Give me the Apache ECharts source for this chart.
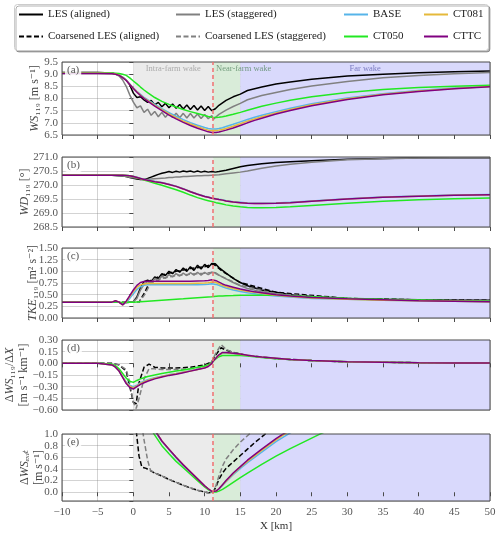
<!DOCTYPE html>
<html>
<head>
<meta charset="utf-8">
<script src="https://cdn.jsdelivr.net/npm/echarts@6/dist/echarts.min.js"></script>
<style>
  html, body { margin: 0; padding: 0; background: #fff; }
  #chart { width: 500px; height: 534px; }
</style>
</head>
<body>
<div id="chart"></div>
<script>
// ---- data ----
const bandEdges = [0, 11.2, 15, 50]      // intra-farm / near-farm / far wake
const farmExit = 11.2
const regionNames = ['Intra-farm wake', 'Near-farm wake', 'Far wake']

// model x positions [km]
const xKm = [-10, -5, -3, -2.5, -2, -1.5, -1, -0.5, 0, 0.5, 1, 1.5, 2, 3, 4, 5, 6, 7, 8, 9, 10, 10.5, 11, 11.2, 11.6,
  12, 12.5, 13, 14, 15, 16, 17, 18, 20, 22, 25, 30, 35, 40, 45, 50]
// LES x positions [km]
const xLes = [-10, -5, -3, -2.5, -2, -1.5, -1, -0.5, 0, 0.5, 1, 1.5, 2, 2.5, 3, 3.5, 4, 4.5, 5, 5.5, 6, 6.5, 7, 7.5, 8,
  8.5, 9, 9.5, 10, 10.5, 11, 11.2, 11.5, 12, 13, 14, 15, 16, 18, 20, 22, 25, 30, 35, 40, 45, 50]

// (a) WS119
const wsBase = [9.04, 9.04, 9.03, 9.01, 8.97, 8.88, 8.76, 8.6, 8.44, 8.3, 8.17, 8.05, 7.95, 7.76, 7.58, 7.42, 7.27, 7.13, 7.01, 6.9,
  6.81, 6.77, 6.75, 6.74, 6.75, 6.77, 6.8, 6.85, 6.94, 7.04, 7.14, 7.23, 7.31, 7.46, 7.6, 7.78, 8.02, 8.2, 8.33, 8.43, 8.5]
const wsCt050 = [9.05, 9.05, 9.05, 9.04, 9.03, 9.0, 8.95, 8.85, 8.72, 8.6, 8.47, 8.35, 8.24, 8.04, 7.88, 7.76, 7.65, 7.55, 7.46, 7.38,
  7.3, 7.26, 7.23, 7.22, 7.22, 7.23, 7.25, 7.28, 7.35, 7.43, 7.52, 7.6, 7.68, 7.81, 7.93, 8.07, 8.25, 8.37, 8.45, 8.5, 8.54]
const wsCt081 = [9.035, 9.035, 9.025, 9.005, 8.96, 8.87, 8.75, 8.59, 8.42, 8.28, 8.14, 8.02, 7.92, 7.72, 7.54, 7.37, 7.21, 7.07, 6.95, 6.84,
  6.74, 6.7, 6.68, 6.67, 6.68, 6.7, 6.73, 6.77, 6.86, 6.96, 7.07, 7.16, 7.25, 7.41, 7.55, 7.74, 7.99, 8.17, 8.31, 8.41, 8.49]
const wsCttc = [9.03, 9.03, 9.02, 9.0, 8.95, 8.86, 8.74, 8.58, 8.41, 8.26, 8.12, 8.0, 7.89, 7.69, 7.5, 7.32, 7.16, 7.02, 6.89, 6.78,
  6.68, 6.63, 6.6, 6.59, 6.6, 6.62, 6.66, 6.7, 6.79, 6.89, 7.0, 7.1, 7.19, 7.36, 7.51, 7.7, 7.96, 8.15, 8.29, 8.4, 8.48]
const wsLesAligned = [9.07, 9.07, 9.05, 9.01, 8.95, 8.87, 8.76, 8.56, 8.22, 8.04, 8.07, 7.94, 7.84, 7.92, 7.74, 7.84, 7.66, 7.8, 7.62, 7.77,
  7.6, 7.75, 7.57, 7.73, 7.55, 7.71, 7.53, 7.69, 7.51, 7.67, 7.5, 7.45, 7.58, 7.72, 7.92, 8.07, 8.18, 8.33, 8.47, 8.6,
  8.68, 8.79, 8.92, 9.0, 9.06, 9.1, 9.13]
const wsLesStaggered = [9.07, 9.07, 9.05, 9.0, 8.92, 8.76, 8.5, 8.15, 7.85, 7.62, 7.7, 7.43, 7.56, 7.31, 7.47, 7.25, 7.43, 7.23, 7.41, 7.22,
  7.4, 7.21, 7.39, 7.2, 7.38, 7.2, 7.36, 7.18, 7.34, 7.17, 7.3, 7.14, 7.22, 7.35, 7.52, 7.67, 7.8, 7.95, 8.12, 8.25,
  8.37, 8.51, 8.7, 8.85, 8.95, 9.02, 9.07]

// (b) WD119
const wdBase = [270.35, 270.35, 270.35, 270.35, 270.35, 270.35, 270.34, 270.33, 270.31, 270.28, 270.24, 270.21, 270.18, 270.13, 270.09,
  270.03, 269.96, 269.87, 269.77, 269.68, 269.6, 269.57, 269.54, 269.53, 269.51, 269.49, 269.47, 269.44, 269.4, 269.38,
  269.36, 269.35, 269.35, 269.36, 269.38, 269.43, 269.51, 269.57, 269.61, 269.64, 269.66]
const wdCt050 = [270.35, 270.35, 270.35, 270.35, 270.35, 270.35, 270.34, 270.33, 270.3, 270.26, 270.22, 270.18, 270.14, 270.06, 269.99,
  269.91, 269.83, 269.74, 269.64, 269.55, 269.47, 269.44, 269.41, 269.4, 269.37, 269.35, 269.32, 269.29, 269.25, 269.22,
  269.2, 269.19, 269.19, 269.2, 269.22, 269.27, 269.35, 269.42, 269.47, 269.51, 269.54]
const wdCt081 = [270.35, 270.35, 270.35, 270.35, 270.35, 270.35, 270.34, 270.33, 270.3, 270.27, 270.23, 270.2, 270.17, 270.12, 270.08,
  270.02, 269.95, 269.86, 269.76, 269.67, 269.59, 269.56, 269.53, 269.52, 269.5, 269.48, 269.46, 269.43, 269.39, 269.37,
  269.35, 269.34, 269.34, 269.35, 269.37, 269.42, 269.5, 269.56, 269.6, 269.63, 269.65]
const wdCttc = [270.35, 270.35, 270.35, 270.35, 270.35, 270.35, 270.34, 270.33, 270.3, 270.27, 270.23, 270.2, 270.17, 270.12, 270.08,
  270.02, 269.95, 269.86, 269.76, 269.67, 269.59, 269.56, 269.53, 269.52, 269.5, 269.48, 269.46, 269.43, 269.39, 269.37,
  269.35, 269.34, 269.34, 269.35, 269.37, 269.42, 269.5, 269.56, 269.6, 269.63, 269.65]
const wdLesAligned = [270.36, 270.36, 270.35, 270.34, 270.33, 270.32, 270.3, 270.27, 270.24, 270.21, 270.2, 270.2, 270.23, 270.28, 270.33,
  270.38, 270.42, 270.45, 270.48, 270.45, 270.49, 270.46, 270.5, 270.47, 270.5, 270.46, 270.5, 270.46, 270.49, 270.46,
  270.48, 270.45, 270.46, 270.48, 270.53, 270.59, 270.65, 270.7, 270.76, 270.8, 270.83, 270.87, 270.92, 270.95, 270.97,
  270.97, 270.97]
const wdLesStaggered = [270.36, 270.36, 270.35, 270.34, 270.33, 270.32, 270.3, 270.28, 270.26, 270.24, 270.22, 270.21, 270.2, 270.21, 270.22,
  270.23, 270.24, 270.25, 270.27, 270.27, 270.29, 270.29, 270.3, 270.3, 270.31, 270.32, 270.33, 270.33, 270.34, 270.34,
  270.35, 270.35, 270.36, 270.37, 270.4, 270.43, 270.46, 270.5, 270.6, 270.68, 270.74, 270.81, 270.9, 270.94, 270.96,
  270.97, 270.97]

// (c) TKE119
const tkeBase = [0.34, 0.34, 0.34, 0.36, 0.34, 0.29, 0.33, 0.42, 0.52, 0.61, 0.67, 0.7, 0.71, 0.71, 0.71, 0.71, 0.71, 0.71, 0.71, 0.715,
  0.72, 0.725, 0.735, 0.74, 0.72, 0.7, 0.67, 0.64, 0.6, 0.57, 0.54, 0.52, 0.5, 0.47, 0.45, 0.42, 0.4, 0.38, 0.37, 0.36, 0.35]
const tkeCt050 = [0.34, 0.34, 0.34, 0.35, 0.34, 0.33, 0.34, 0.34, 0.34, 0.345, 0.35, 0.355, 0.36, 0.37, 0.38, 0.39, 0.4, 0.41, 0.425, 0.435,
  0.445, 0.45, 0.455, 0.46, 0.465, 0.47, 0.473, 0.476, 0.48, 0.485, 0.488, 0.49, 0.49, 0.485, 0.475, 0.455, 0.425, 0.4, 0.385, 0.37, 0.36]
const tkeCt081 = [0.34, 0.34, 0.34, 0.37, 0.34, 0.28, 0.35, 0.46, 0.57, 0.66, 0.71, 0.73, 0.74, 0.74, 0.74, 0.74, 0.74, 0.74, 0.74, 0.745,
  0.75, 0.755, 0.77, 0.78, 0.76, 0.73, 0.7, 0.67, 0.63, 0.6, 0.57, 0.55, 0.53, 0.49, 0.46, 0.43, 0.4, 0.38, 0.37, 0.36, 0.35]
const tkeCttc = [0.34, 0.34, 0.34, 0.37, 0.34, 0.28, 0.36, 0.48, 0.6, 0.7, 0.76, 0.78, 0.79, 0.79, 0.79, 0.79, 0.79, 0.79, 0.79, 0.795,
  0.8, 0.805, 0.82, 0.83, 0.8, 0.77, 0.73, 0.7, 0.66, 0.62, 0.59, 0.56, 0.54, 0.5, 0.47, 0.44, 0.41, 0.39, 0.37, 0.36, 0.35]
const tkeLesAligned = [0.34, 0.34, 0.34, 0.36, 0.34, 0.3, 0.33, 0.34, 0.35, 0.45, 0.65, 0.78, 0.81, 0.78, 0.88, 0.85, 0.95, 0.91, 1.0, 0.95,
  1.04, 0.98, 1.07, 1.0, 1.1, 1.02, 1.13, 1.05, 1.15, 1.08, 1.17, 1.2, 1.16, 1.08, 0.96, 0.85, 0.76, 0.69, 0.6, 0.55,
  0.5, 0.46, 0.42, 0.4, 0.39, 0.38, 0.38]
const tkeLesStaggered = [0.34, 0.34, 0.34, 0.36, 0.34, 0.3, 0.33, 0.34, 0.35, 0.42, 0.6, 0.72, 0.78, 0.75, 0.85, 0.8, 0.9, 0.85, 0.93, 0.88,
  0.95, 0.9, 0.96, 0.91, 0.97, 0.92, 0.98, 0.92, 0.98, 0.93, 0.98, 1.0, 0.97, 0.92, 0.84, 0.76, 0.69, 0.63, 0.56, 0.52,
  0.48, 0.45, 0.41, 0.39, 0.38, 0.37, 0.37]
const xTkeCoarse = [-10, -5, 0, 0.8, 1.6, 2.4, 4, 6, 8, 10, 11.2, 12.5, 15, 20, 30, 40, 50]
const tkeCoarseAligned = [0.34, 0.34, 0.34, 0.34, 0.55, 0.8, 0.92, 1.0, 1.06, 1.1, 1.16, 1.0, 0.76, 0.55, 0.42, 0.39, 0.38]
const tkeCoarseStaggered = [0.34, 0.34, 0.34, 0.34, 0.5, 0.74, 0.85, 0.91, 0.94, 0.96, 0.98, 0.88, 0.7, 0.52, 0.41, 0.38, 0.37]

// (d) dWS119/dX
const dwsBase = [0, 0, -0.02, -0.05, -0.1, -0.17, -0.24, -0.28, -0.3, -0.28, -0.25, -0.23, -0.21, -0.185, -0.165, -0.145, -0.13, -0.11, -0.095, -0.075,
  -0.055, -0.035, 0.0, 0.03, 0.07, 0.1, 0.13, 0.13, 0.125, 0.115, 0.1, 0.09, 0.08, 0.065, 0.05, 0.035, 0.02, 0.013, 0.008, 0.005, 0.003]
const dwsCt050 = [0, 0, -0.01, -0.03, -0.07, -0.13, -0.19, -0.23, -0.245, -0.22, -0.2, -0.185, -0.17, -0.15, -0.13, -0.115, -0.1, -0.085, -0.07, -0.05,
  -0.035, -0.02, 0.01, 0.03, 0.06, 0.085, 0.1, 0.1, 0.1, 0.1, 0.095, 0.085, 0.075, 0.06, 0.048, 0.035, 0.02, 0.013, 0.008, 0.005, 0.003]
const dwsCt081 = [0, 0, -0.02, -0.05, -0.1, -0.175, -0.25, -0.295, -0.315, -0.29, -0.26, -0.24, -0.22, -0.19, -0.17, -0.15, -0.135, -0.115, -0.098, -0.078,
  -0.058, -0.038, 0.0, 0.03, 0.07, 0.105, 0.135, 0.135, 0.128, 0.118, 0.103, 0.09, 0.08, 0.065, 0.05, 0.035, 0.02, 0.013, 0.008, 0.005, 0.003]
const dwsCttc = [0, 0, -0.02, -0.05, -0.1, -0.18, -0.26, -0.31, -0.33, -0.3, -0.27, -0.25, -0.23, -0.2, -0.175, -0.155, -0.14, -0.12, -0.1, -0.08,
  -0.06, -0.04, 0.0, 0.03, 0.07, 0.11, 0.14, 0.14, 0.13, 0.12, 0.105, 0.09, 0.08, 0.065, 0.05, 0.035, 0.02, 0.013, 0.008, 0.005, 0.003]
const xDwsCoarse = [-10, -5, -3, -2, -1, -0.5, 0, 0.4, 0.8, 1.5, 2.2, 3, 4, 6, 8, 10, 11, 11.5, 12.3, 13, 14, 15, 16, 18, 20, 25, 30, 40, 50]
const dwsCoarseAligned = [0, 0, 0, -0.02, -0.1, -0.3, -0.5, -0.52, -0.25, -0.05, -0.01, -0.05, -0.06, -0.06, -0.05, -0.02, 0.02, 0.1, 0.2,
  0.17, 0.14, 0.12, 0.1, 0.08, 0.06, 0.035, 0.02, 0.008, 0.003]
const dwsCoarseStaggered = [0, 0, 0, -0.02, -0.08, -0.25, -0.5, -0.58, -0.45, -0.2, -0.07, -0.07, -0.08, -0.08, -0.07, -0.04, 0.02, 0.12, 0.24,
  0.18, 0.14, 0.12, 0.1, 0.08, 0.06, 0.035, 0.02, 0.008, 0.003]

// (e) dWS_exit
const xExit = [0, 1, 2, 3, 4, 5, 6, 7, 8, 9, 10, 10.5, 11, 11.2, 11.6, 12, 12.5, 13, 14, 15, 16, 18, 20, 22, 24, 26, 28]
const exitBase = [1.88, 1.58, 1.31, 1.05, 0.87, 0.73, 0.59, 0.46, 0.34, 0.225, 0.105, 0.055, 0.012, 0.0, 0.018, 0.055, 0.115, 0.18, 0.3, 0.41,
  0.51, 0.69, 0.87, 1.02, 1.16, 1.29, 1.41]
const exitCt050 = [1.7, 1.42, 1.18, 0.98, 0.8, 0.66, 0.53, 0.42, 0.31, 0.2, 0.09, 0.045, 0.01, 0.0, 0.005, 0.02, 0.05, 0.09, 0.17, 0.25,
  0.33, 0.48, 0.62, 0.75, 0.87, 0.99, 1.1]
const exitCt081 = [1.9, 1.6, 1.33, 1.07, 0.88, 0.74, 0.6, 0.47, 0.35, 0.23, 0.11, 0.06, 0.015, 0.0, 0.02, 0.06, 0.125, 0.19, 0.32, 0.43,
  0.53, 0.72, 0.9, 1.06, 1.2, 1.33, 1.45]
const exitCttc = [1.9, 1.6, 1.33, 1.07, 0.88, 0.74, 0.6, 0.47, 0.35, 0.23, 0.11, 0.06, 0.015, 0.0, 0.02, 0.06, 0.13, 0.2, 0.33, 0.44,
  0.55, 0.74, 0.92, 1.08, 1.22, 1.35, 1.47]
const xExitCoarseAligned = [0.2, 0.5, 0.8, 1.2, 1.8, 2.4, 3, 4, 5, 6, 7, 8, 9, 10, 10.5, 11.2, 11.6, 12, 12.5, 13, 14, 15, 16, 17, 18, 19]
const exitCoarseAligned = [1.3, 0.95, 0.62, 0.43, 0.41, 0.37, 0.33, 0.28, 0.22, 0.17, 0.12, 0.075, 0.035, 0.005, -0.01, 0.0, 0.1, 0.22, 0.33,
  0.41, 0.52, 0.63, 0.74, 0.85, 0.95, 1.05]
const xExitCoarseStaggered = [1.0, 1.5, 2.0, 2.4, 3, 4, 5, 6, 7, 8, 9, 10, 10.5, 11.2, 11.6, 12, 12.5, 13, 14, 15, 16, 17]
const exitCoarseStaggered = [1.3, 0.9, 0.55, 0.38, 0.33, 0.28, 0.22, 0.17, 0.12, 0.075, 0.035, 0.005, -0.01, 0.0, 0.12, 0.28, 0.45, 0.57,
  0.73, 0.86, 0.97, 1.08]

// ---- look ----
const FONT = '"Liberation Serif", "DejaVu Serif", serif'
const col = {
  les: '#000000',
  lesS: '#808080',
  base: '#56b4e9',
  ct050: '#22e822',
  ct081: '#e5b93a',
  cttc: '#800080',
}
const bandColors = ['#ebebeb', '#d9ecd9', '#d9d9fc']
const gridColor = 'rgba(130, 130, 130, 0.35)'

const tops = [62, 157, 248, 340, 434]
const heights = [73, 70, 70, 70, 67]

const yCfg = [
  { min: 6.5, max: 9.5, interval: 0.5, dec: 1, gap: 20, name: '{it|WS}₁₁₉ [m s⁻¹]' },
  { min: 268.5, max: 271, interval: 0.5, dec: 1, gap: 30, name: '{it|WD}₁₁₉ [°]' },
  { min: 0, max: 1.5, interval: 0.25, dec: 2, gap: 22, name: '{it|TKE}₁₁₉ [m² s⁻²]' },
  { min: -0.6, max: 0.3, interval: 0.15, dec: 2, gap: 31, name: 'Δ{it|WS}₁₁₉/Δ{it|X}\n[m s⁻¹ km⁻¹]' },
  // no interval here: the axis starts below zero, ticks come out at 0, 0.2 ... 1.0
  { min: -0.15, max: 1.0, dec: 1, gap: 16, name: 'Δ{it|WS}{it|ₑₓᵢₜ}\n[m s⁻¹]' },
]

function pts(xs, ys) {
  return xs.map((x, i) => [x, ys[i]])
}

function curve(name, g, xs, ys, color, dashed) {
  return {
    name: name,
    type: 'line',
    xAxisIndex: g,
    yAxisIndex: g,
    data: pts(xs, ys),
    symbol: 'none',
    showSymbol: false,
    silent: true,
    z: 2,
    lineStyle: { color: color, width: 1.5, type: dashed ? [5, 2.5] : 'solid' },
    itemStyle: { color: color, opacity: 0 },
  }
}

function fmt(v, dec) {
  if (Math.abs(v) < 1e-9) v = 0
  return v.toFixed(dec).replace('-', '−')
}

const grids = tops.map((t, i) => ({
  left: 62,
  right: 10,
  top: t,
  height: heights[i],
  outerBoundsMode: 'none',
  containLabel: false,
  show: true,
  borderColor: '#4a4a4a',
  borderWidth: 1,
  backgroundColor: 'transparent',
  z: 4,
}))

const xAxes = tops.map((t, i) => ({
  type: 'value',
  gridIndex: i,
  min: -10,
  max: 50,
  interval: 5,
  z: 1,
  axisLine: { show: false },
  axisTick: { show: true, inside: false, length: 4, lineStyle: { color: '#4a4a4a' } },
  axisLabel: {
    show: i === 4,
    color: '#555',
    fontFamily: FONT,
    fontSize: 11,
    margin: 6,
    formatter: v => fmt(v, 0),
  },
  splitLine: { show: true, lineStyle: { color: gridColor, width: 1 } },
  name: i === 4 ? 'X [km]' : '',
  nameLocation: 'middle',
  nameGap: 20,
  nameMoveOverlap: false,
  nameTextStyle: { color: '#333', fontFamily: FONT, fontSize: 11 },
}))

const yAxes = yCfg.map((c, i) => {
  const yAxis = {
    type: 'value',
    gridIndex: i,
    min: c.min,
    max: c.max,
    z: 1,
    axisLine: { show: false },
    axisTick: { show: true, inside: false, length: 4, lineStyle: { color: '#4a4a4a' } },
    axisLabel: {
      color: '#555', fontFamily: FONT, fontSize: 11, margin: 4,
      showMinLabel: true, showMaxLabel: true,
      formatter: v => (v < -1e-9 && c.interval === undefined) ? '' : fmt(v, c.dec),
    },
    splitLine: { show: true, lineStyle: { color: gridColor, width: 1 } },
    name: c.name,
    nameLocation: 'middle',
    nameRotate: 90,
    nameGap: c.gap,
    nameMoveOverlap: false,
    nameTextStyle: {
      color: '#444',
      fontFamily: FONT,
      fontSize: 12,
      lineHeight: 14,
      rich: { it: { fontStyle: 'italic', fontFamily: FONT, fontSize: 12, color: '#444' } },
    },
  }
  if (c.interval !== undefined) yAxis.interval = c.interval
  else yAxis.splitNumber = 5
  return yAxis
})

const series = []

// wake bands and the farm-exit marker in every panel
tops.forEach((t, i) => {
  series.push({
    type: 'line',
    xAxisIndex: i,
    yAxisIndex: i,
    data: [],
    silent: true,
    z: 0,
    markArea: {
      silent: true,
      data: [0, 1, 2].map(k => [
        { xAxis: bandEdges[k], itemStyle: { color: bandColors[k] } },
        { xAxis: bandEdges[k + 1] },
      ]),
    },
  })
  series.push({
    type: 'line',
    xAxisIndex: i,
    yAxisIndex: i,
    data: [],
    silent: true,
    z: 3,
    markLine: {
      silent: true,
      symbol: ['none', 'none'],
      label: { show: false },
      lineStyle: { color: '#f07070', type: [4, 3], width: 1.5 },
      data: [{ xAxis: farmExit }],
    },
  })
})

// (a)
series.push(curve('LES (aligned)', 0, xLes, wsLesAligned, col.les))
series.push(curve('LES (staggered)', 0, xLes, wsLesStaggered, col.lesS))
series.push(curve('BASE', 0, xKm, wsBase, col.base))
series.push(curve('CT050', 0, xKm, wsCt050, col.ct050))
series.push(curve('CT081', 0, xKm, wsCt081, col.ct081))
series.push(curve('CTTC', 0, xKm, wsCttc, col.cttc))
// (b)
series.push(curve('LES (aligned)', 1, xLes, wdLesAligned, col.les))
series.push(curve('LES (staggered)', 1, xLes, wdLesStaggered, col.lesS))
series.push(curve('BASE', 1, xKm, wdBase, col.base))
series.push(curve('CT050', 1, xKm, wdCt050, col.ct050))
series.push(curve('CT081', 1, xKm, wdCt081, col.ct081))
series.push(curve('CTTC', 1, xKm, wdCttc, col.cttc))
// (c)
series.push(curve('LES (aligned)', 2, xLes, tkeLesAligned, col.les))
series.push(curve('Coarsened LES (aligned)', 2, xTkeCoarse, tkeCoarseAligned, col.les, true))
series.push(curve('LES (staggered)', 2, xLes, tkeLesStaggered, col.lesS))
series.push(curve('Coarsened LES (staggered)', 2, xTkeCoarse, tkeCoarseStaggered, col.lesS, true))
series.push(curve('BASE', 2, xKm, tkeBase, col.base))
series.push(curve('CT050', 2, xKm, tkeCt050, col.ct050))
series.push(curve('CT081', 2, xKm, tkeCt081, col.ct081))
series.push(curve('CTTC', 2, xKm, tkeCttc, col.cttc))
// (d)
series.push(curve('Coarsened LES (aligned)', 3, xDwsCoarse, dwsCoarseAligned, col.les, true))
series.push(curve('Coarsened LES (staggered)', 3, xDwsCoarse, dwsCoarseStaggered, col.lesS, true))
series.push(curve('BASE', 3, xKm, dwsBase, col.base))
series.push(curve('CT050', 3, xKm, dwsCt050, col.ct050))
series.push(curve('CT081', 3, xKm, dwsCt081, col.ct081))
series.push(curve('CTTC', 3, xKm, dwsCttc, col.cttc))
// (e)
series.push(curve('Coarsened LES (aligned)', 4, xExitCoarseAligned, exitCoarseAligned, col.les, true))
series.push(curve('Coarsened LES (staggered)', 4, xExitCoarseStaggered, exitCoarseStaggered, col.lesS, true))
series.push(curve('BASE', 4, xExit, exitBase, col.base))
series.push(curve('CT050', 4, xExit, exitCt050, col.ct050))
series.push(curve('CT081', 4, xExit, exitCt081, col.ct081))
series.push(curve('CTTC', 4, xExit, exitCttc, col.cttc))

// region names in panel (a)
const regionColors = ['#9a9a9a', '#5a8a66', '#6464b4']
series.push({
  type: 'scatter',
  xAxisIndex: 0,
  yAxisIndex: 0,
  symbolSize: 0,
  silent: true,
  z: 5,
  data: [
    { value: [(bandEdges[0] + bandEdges[1]) / 2, 9.22], label: { align: 'center', color: regionColors[0] } },
    { value: [bandEdges[1] + 0.4, 9.22], label: { align: 'left', color: regionColors[1] } },
    { value: [(bandEdges[2] + bandEdges[3]) / 2, 9.22], label: { align: 'center', color: regionColors[2] } },
  ],
  label: {
    show: true,
    position: 'inside',
    fontFamily: FONT,
    fontSize: 8.5,
    formatter: p => regionNames[p.dataIndex],
  },
})

const legendBase = {
  orient: 'vertical',
  top: 9,
  padding: 0,
  itemWidth: 24,
  itemHeight: 12,
  itemGap: 11,
  selectedMode: false,
  itemStyle: { opacity: 0 },
  textStyle: { fontFamily: FONT, fontSize: 11, color: '#222' },
}

const letters = ['(a)', '(b)', '(c)', '(d)', '(e)']

const option = {
  animation: false,
  backgroundColor: '#fff',
  grid: grids,
  xAxis: xAxes,
  yAxis: yAxes,
  legend: [
    Object.assign({}, legendBase, { left: 18, data: ['LES (aligned)', 'Coarsened LES (aligned)'] }),
    Object.assign({}, legendBase, { left: 175, data: ['LES (staggered)', 'Coarsened LES (staggered)'] }),
    Object.assign({}, legendBase, { left: 343, data: ['BASE', 'CT050'] }),
    Object.assign({}, legendBase, { left: 423, data: ['CT081', 'CTTC'] }),
  ],
  graphic: [
    {
      type: 'rect',
      left: 14,
      top: 4,
      z: -1,
      shape: { width: 474, height: 46, r: 3 },
      style: {
        fill: '#fff',
        stroke: '#cccccc',
        lineWidth: 1,
        shadowColor: 'rgba(0,0,0,0.3)',
        shadowOffsetX: 1.5,
        shadowOffsetY: 1.5,
      },
    },
  ].concat(letters.map((l, i) => ({
    type: 'text',
    left: 65,
    top: tops[i] + 2,
    z: 10,
    style: {
      text: l,
      font: '11px ' + FONT,
      fill: '#555',
      backgroundColor: 'rgba(255,255,255,0.85)',
      padding: [1, 2],
      borderRadius: 2,
    },
  }))),
  series: series,
}

const myChart = echarts.init(document.getElementById('chart'))
myChart.setOption(option)
</script>
</body>
</html>
